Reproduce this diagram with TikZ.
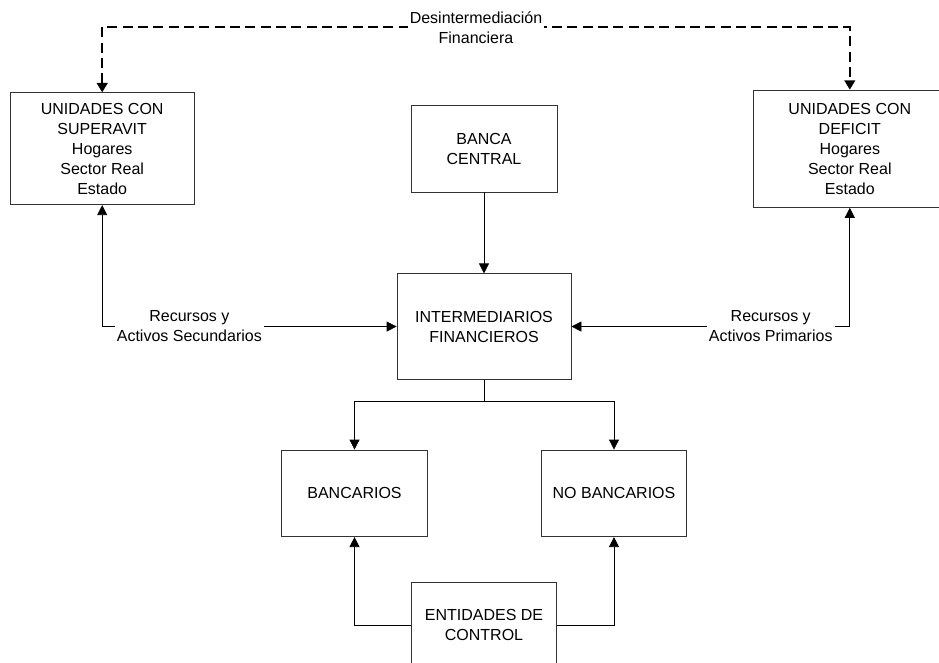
\documentclass[tikz,border=0pt]{standalone}
\usepackage{fontspec}
\setmainfont{Liberation Sans}
\usepackage{tikz}
\usetikzlibrary{arrows.meta,positioning}
\tikzstyle{flecha} = [line width=0.6pt,->,>={Triangle[length=7.5pt,width=7.5pt]}]
\tikzstyle{desinter} = [line width=1.5pt,dash pattern=on 7.5pt off 4pt,<->,>={Triangle[length=7pt,width=8pt]}]
\tikzstyle{bloque} = [rectangle, draw=black!80, line width=0.6pt, align=center, inner sep=2pt, font=\fontsize{12}{15}\selectfont]
\tikzstyle{etiqueta} = [fill=white, align=center, inner sep=1.5pt, font=\fontsize{12}{15}\selectfont]

\begin{document}
\begin{tikzpicture}
\useasboundingbox (0,0) rectangle (704.25pt,-497.25pt);
\node (inter) [bloque, minimum width=130.5pt, minimum height=79pt] at (363pt,-244.9pt) {INTERMEDIARIOS\\FINANCIEROS};
\node (banca) [bloque, above=60.75pt of inter, minimum width=109.5pt, minimum height=65pt] {BANCA\\CENTRAL};
\node (superavit) [bloque, left=162pt of banca, minimum width=138pt, minimum height=84pt] {UNIDADES CON\\SUPERAVIT\\Hogares\\Sector Real\\Estado};
\node (deficit) [bloque, right=147pt of banca, minimum width=144pt, minimum height=88pt] {UNIDADES CON\\DEFICIT\\Hogares\\Sector Real\\Estado};
\node (bancarios) [bloque, below=52.5pt of inter, xshift=-97.125pt, minimum width=109pt, minimum height=65pt] {BANCARIOS};
\node (nobancarios) [bloque, below=52.5pt of inter, xshift=97.5pt, minimum width=109pt, minimum height=65pt] {NO BANCARIOS};
\node (entidades) [bloque, below=151.5pt of inter, minimum width=109pt, minimum height=65pt] {ENTIDADES DE\\CONTROL};

% flujos hacia los intermediarios
\draw[flecha] (banca) -- (inter);
\draw[flecha, <->] (superavit.south) |- node[etiqueta, pos=0.648] {Recursos y\\Activos Secundarios} (inter.west);
\draw[flecha, <->] (deficit.south) |- node[etiqueta, pos=0.642] {Recursos y\\Activos Primarios} (inter.east);
\draw[desinter] (superavit.north) -- ++(0,48.75pt) -| node[etiqueta, pos=0.25] {Desintermediación\\Financiera} (deficit.north);

% clasificacion y control
\draw[flecha] (inter.south) -- ++(0,-16.5pt) -| (bancarios);
\draw[flecha] (inter.south) -- ++(0,-16.5pt) -| (nobancarios);
\draw[flecha] (entidades.west) -| (bancarios);
\draw[flecha] (entidades.east) -| (nobancarios);
\end{tikzpicture}
\end{document}
